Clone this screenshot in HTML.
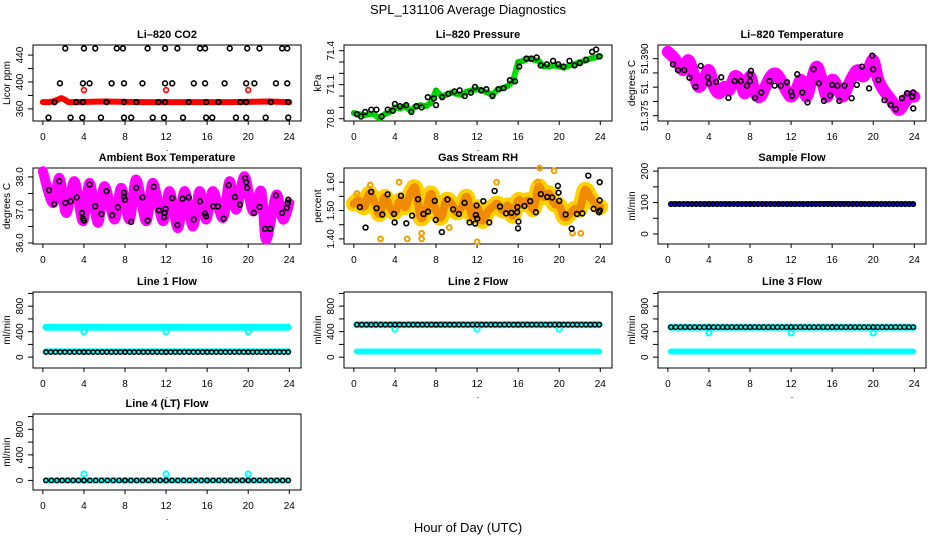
<!DOCTYPE html>
<html><head><meta charset="utf-8"><style>
html,body{margin:0;padding:0;background:#fff;}
svg{display:block;font-family:"Liberation Sans",sans-serif;}
</style></head><body>
<svg id="chart" width="936" height="540" viewBox="0 0 936 540">
<text x="468" y="14" text-anchor="middle" font-size="13">SPL_131106  Average Diagnostics</text>
<text x="468" y="532" text-anchor="middle" font-size="13">Hour of Day (UTC)</text>
</svg>
<script>
// ---------- data ----------
const xTicks = [0,4,8,12,16,20,24];
const halfHours = [0,0.5,1,1.5,2,2.5,3,3.5,4,4.5,5,5.5,6,6.5,7,7.5,8,8.5,9,9.5,10,10.5,11,11.5,12,12.5,13,13.5,14,14.5,15,15.5,16,16.5,17,17.5,18,18.5,19,19.5,20,20.5,21,21.5,22,22.5,23,23.5,24];

// CO2
const co2TopT = [2.18,4.0,5.1,7.2,7.8,10.2,11.9,13.1,15.3,15.8,18.2,19.9,21.1,23.3,23.8];
const co2TopV = [450,450,450,450,450,450,450,450,450,450,450,450,450,450,450];
const co2MidT = [1.66,3.9,4.55,6.7,7.9,9.7,11.9,12.6,14.7,15.8,17.7,19.8,20.6,22.7,23.8];
const co2MidV = [398,398,398,398,398,398,398,398,398,398,398,398,398,398,398];
const co2LowT = [1.14,3.25,3.9,6.2,7.9,9.1,11.25,11.9,14.2,15.9,17.1,19.25,19.8,22.2,23.9];
const co2LowV = [370,370,370,370,370,370,370,370,370,370,370,370,370,370,370];
const co2BotT = [0.55,2.7,3.84,5.66,7.9,8.6,10.7,11.8,13.65,15.9,16.5,18.8,19.8,21.7,23.9];
const co2BotV = [347,347,347,347,347,347,347,347,347,347,347,347,347,347,347];
const co2RedT = [0,0.5,1,1.5,1.8,2.1,2.5,3,6,10,14,18,22,24];
const co2RedV = [370,370,371,374,376,374,370,370,371,370,370,370,371,370];
const co2RedOutT = [4,12,20];
const co2RedOutV = [388,388,388];

// Pressure
const presGreen = [70.85,70.84,70.83,70.84,70.84,70.80,70.84,70.86,70.90,70.89,70.91,70.87,70.91,70.92,70.91,70.94,71.05,71.00,71.01,71.03,71.02,71.01,71.04,71.05,71.06,71.05,71.03,71.01,71.06,71.07,71.09,71.13,71.30,71.31,71.33,71.32,71.31,71.26,71.26,71.27,71.26,71.25,71.27,71.28,71.30,71.31,71.33,71.34,71.35];
const presBlackT = [0.3,0.7,1.1,1.7,2.2,2.7,3.3,3.8,4,4.5,5.1,5.6,6.1,6.6,7.2,7.8,8,8.6,9.2,9.8,10.3,10.8,11.4,11.8,12.4,12.9,13.5,14.1,14.6,15.2,15.7,16.1,16.8,17.3,17.8,18.2,18.8,19.4,19.9,20.4,21,21.5,22,22.6,23.2,23.6,23.9];
const presBlackV = [70.84,70.82,70.86,70.88,70.88,70.82,70.88,70.87,70.93,70.91,70.92,70.86,70.91,70.90,70.99,70.98,70.92,70.99,71.02,71.04,71.05,71.00,71.03,71.08,71.05,71.06,71.00,71.06,71.07,71.14,71.13,71.26,71.33,71.33,71.34,71.27,71.28,71.31,71.28,71.26,71.31,71.27,71.29,71.32,71.39,71.41,71.35];

// Li-820 temperature
const tempMag = [51.3918,51.3905,51.3888,51.3870,51.3896,51.3861,51.3826,51.3844,51.3870,51.3826,51.3809,51.3826,51.3818,51.3853,51.3844,51.3809,51.3853,51.3809,51.3800,51.3826,51.3853,51.3861,51.3844,51.3818,51.3800,51.3818,51.3844,51.3800,51.3844,51.3879,51.3844,51.3800,51.3844,51.3826,51.3800,51.3826,51.3853,51.3870,51.3853,51.3870,51.3896,51.3844,51.3818,51.3800,51.3782,51.3765,51.3782,51.3800,51.3800];
const tempBlackT = [0.5,1,1.6,2.1,2.7,3.2,3.9,4,4.7,5.2,5.9,6.5,7.1,7.7,8,8,8.1,8.5,9.1,9.9,10.4,11,11.6,12,12.1,12.6,13.1,13.6,14.2,14.7,15.2,15.8,16,16.5,16.7,17.2,17.9,18.4,18.9,19.6,19.9,20,20.5,21.1,21.7,22.2,22.8,23.3,23.8,23.9,23.9];
const tempBlackV = [51.3885,51.3870,51.3870,51.3850,51.3826,51.3881,51.3851,51.3835,51.3839,51.3851,51.3797,51.3841,51.3841,51.3829,51.3841,51.3857,51.3868,51.3797,51.3811,51.3841,51.3829,51.3829,51.3838,51.3813,51.3802,51.3859,51.3811,51.3785,51.3872,51.3835,51.3789,51.3803,51.3831,51.3829,51.3789,51.3829,51.3796,51.3831,51.3879,51.3822,51.3908,51.3872,51.3844,51.3791,51.3778,51.3767,51.3796,51.3809,51.3800,51.3811,51.3769];

// Ambient box temperature
const ambT = [0,0.97,1.62,2.27,3.08,3.9,4.55,5.36,6.0,6.98,7.63,8.44,9.09,10.06,10.71,11.69,12.34,13.15,13.8,14.61,15.26,15.9,16.56,17.53,18.18,18.83,19.64,20.45,21.27,21.75,22.73,23.38,24];
const ambV = [38.17,37.21,37.97,36.91,37.87,36.66,37.82,36.61,37.72,36.71,37.67,36.71,37.92,36.66,37.82,36.66,37.57,36.45,37.57,36.50,37.57,36.71,37.57,36.76,37.87,37.01,38.02,36.96,37.57,36.10,37.46,36.71,37.20];
const ambBlackT = [0.6,1.1,1.6,2.2,2.7,3.3,3.8,3.9,4,4.55,5.1,5.7,6.2,6.75,7.3,7.9,7.9,8,8.6,9.1,9.7,10.2,11.3,10.8,11.8,11.85,11.95,12.6,13.1,13.6,14.2,14.7,15.3,15.8,15.9,16.6,17.05,17.6,18.1,18.7,19.2,19.7,19.8,19.9,20.55,21.1,21.65,22.15,22.7,23.3,23.75,23.85,23.9];
const ambBlackV = [37.6,37.18,37.87,37.21,37.26,37.38,36.91,36.74,36.68,37.77,37.11,36.88,37.57,36.84,37.08,37.52,37.41,37.31,36.64,37.67,37.38,36.68,36.99,37.7,36.78,36.91,37.03,37.36,36.54,37.34,37.38,36.71,37.26,36.89,36.81,37.11,37.11,36.74,37.75,37.39,37.16,37.97,37.84,37.67,36.91,37.09,36.43,36.43,37.44,36.91,37.06,37.21,37.31];

// Gas stream RH
const rhBand = [1.524,1.536,1.512,1.560,1.530,1.488,1.548,1.512,1.494,1.536,1.512,1.560,1.578,1.476,1.500,1.560,1.500,1.476,1.536,1.524,1.494,1.512,1.548,1.482,1.512,1.464,1.494,1.512,1.524,1.500,1.518,1.482,1.536,1.524,1.536,1.506,1.584,1.548,1.560,1.524,1.518,1.476,1.488,1.506,1.506,1.572,1.548,1.524,1.512];
const rhOutT = [1.6,4.4,2.6,5.2,6.6,6.6,12,18.1,19.5,21.3,22.1,13.9,0.3,9.3,17.9];
const rhOutV = [1.59,1.60,1.40,1.40,1.42,1.40,1.39,1.65,1.64,1.42,1.42,1.60,1.56,1.44,1.60];
const rhBlackT = [0.59,1.14,1.69,2.21,2.77,3.29,3.91,3.97,4.59,5.11,5.67,6.25,6.78,7.23,7.88,7.98,8.57,9.12,9.67,10.23,10.78,11.27,11.82,11.89,11.95,12.02,12.61,13.19,13.71,14.23,14.82,15.34,15.9,15.93,15.99,16.03,16.61,17.17,17.72,18.21,18.83,19.32,19.87,19.93,20.0,20.62,21.21,21.73,22.25,22.83,23.35,23.94,23.94,23.97,23.87];
const rhBlackV = [1.512,1.440,1.566,1.508,1.486,1.557,1.488,1.458,1.552,1.455,1.482,1.540,1.488,1.496,1.534,1.467,1.424,1.539,1.504,1.488,1.527,1.458,1.454,1.484,1.518,1.472,1.533,1.458,1.569,1.514,1.490,1.492,1.494,1.512,1.437,1.461,1.516,1.533,1.494,1.558,1.548,1.546,1.587,1.563,1.534,1.486,1.436,1.488,1.490,1.623,1.506,1.600,1.536,1.500,1.494];

// Flows (piecewise segments)
const flowSegT = [0.3,4,8,12,16,20,23.9];
const sampleBlue = [96,96,96,96,97,96,96];
const sampleBlack = [95,95,95,95,95,95,95];
const line1CyanHi = [470,470,470,470,470,470,470];
const line1CyanLo = [90,90,90,90,90,90,90];
const line1Black = [80,80,80,80,80,80,80];
const line2CyanHi = [510,510,510,510,510,510,510];
const line2CyanLo = [88,88,88,88,88,88,88];
const line2Black = [510,510,510,510,510,510,510];
const line3CyanHi = [470,470,470,470,470,470,470];
const line3CyanLo = [88,88,88,88,88,88,88];
const line3Black = [470,470,470,470,470,470,470];
const line4Cyan = [0,0,0,0,0,0,0];
const line4Black = [0,0,0,0,0,0,0];
const dipT = [4,12,20];
const line1Dip = [400,400,400];
const line2Dip = [440,440,440];
const line3Dip = [380,380,380];
const line4Dip = [100,100,100];

// ---------- rendering ----------
const NS = "http://www.w3.org/2000/svg";
const svg = document.getElementById("chart");
const colLeft = [33,344,658], rowTop = [45,168,292,414], PW = 268, PH = 76;

function mk(tag, attrs, parent) {
  const e = document.createElementNS(NS, tag);
  for (const k in attrs) e.setAttribute(k, attrs[k]);
  (parent || svg).appendChild(e);
  return e;
}

function makePanel(col, row, name, title, ylab, ymin, ymax, ticks, labels) {
  const L = colLeft[col], T = rowTop[row];
  const g = mk("g", {});
  
  
  const p = { L, T, g, ymin, ymax,
    x: h => L + (h + 0.96) / 26.1 * PW,
    y: v => T + PH - (v - ymin) / (ymax - ymin) * PH };
  const t = mk("text", { x: L + PW / 2, y: T - 7, "text-anchor": "middle", "font-size": 11, "font-weight": "bold" }, g);
  t.textContent = title;
  
  
  const box = mk("rect", { x: L, y: T, width: PW, height: PH, fill: "none", stroke: "#000", "stroke-width": 1 }, g);
  
  
  xTicks.forEach(h => {
    mk("line", { x1: p.x(h), x2: p.x(h), y1: T + PH, y2: T + PH + 4, stroke: "#000" }, g);
    const tl = mk("text", { x: p.x(h), y: T + PH + 19, "text-anchor": "middle", "font-size": 10 }, g);
    tl.textContent = h;
    
    
  });
  const dot = mk("text", { x: L + PW / 2, y: T + PH + 30, "text-anchor": "middle", "font-size": 9 }, g);
  dot.textContent = ".";
  ticks.forEach((v, i) => {
    const yy = p.y(v);
    mk("line", { x1: L - 5, x2: L, y1: yy, y2: yy, stroke: "#000" }, g);
    if (labels[i]) {
      const yl = mk("text", { x: L - 10, y: yy, "text-anchor": "middle", "font-size": 10, transform: `rotate(-90 ${L - 10} ${yy})` }, g);
      yl.textContent = labels[i];
      
      
    }
  });
  const yt = mk("text", { x: L - 23, y: T + PH / 2, "text-anchor": "middle", "font-size": 10, transform: `rotate(-90 ${L - 23} ${T + PH / 2})` }, g);
  yt.textContent = ylab;
  
  
  return p;
}

function points(p, xs, ys, color, name, r, sw) {
  const g = mk("g", {}, p.g);
  
  
  xs.forEach((h, i) => {
    const c = mk("circle", { cx: p.x(h), cy: p.y(ys[i]), r: r || 2.4, fill: "none", stroke: color, "stroke-width": sw || 1.6 }, g);
    
    
  });
}

function band(p, xs, ys, color, width, name, smooth) {
  const P = xs.map((h, i) => [p.x(h), p.y(ys[i])]);
  let d = "M" + P[0][0] + "," + P[0][1];
  if (smooth) {
    for (let i = 0; i < P.length - 1; i++) {
      const p0 = P[i - 1] || P[i], p1 = P[i], p2 = P[i + 1], p3 = P[i + 2] || p2;
      const c1 = [p1[0] + (p2[0] - p0[0]) / 6, p1[1] + (p2[1] - p0[1]) / 6];
      const c2 = [p2[0] - (p3[0] - p1[0]) / 6, p2[1] - (p3[1] - p1[1]) / 6];
      d += ` C${c1[0]},${c1[1]} ${c2[0]},${c2[1]} ${p2[0]},${p2[1]}`;
    }
  } else {
    for (let i = 1; i < P.length; i++) d += " L" + P[i][0] + "," + P[i][1];
  }
  const e = mk("path", { d, fill: "none", stroke: color, "stroke-width": width, "stroke-linejoin": "round", "stroke-linecap": "round" }, p.g);
  
  
  return e;
}

function dotted(p, xs, ys, color, name, spacing) {
  const g = mk("g", {}, p.g);
  
  
  for (let i = 0; i < xs.length - 1; i++) {
    const x1 = p.x(xs[i]), y1 = p.y(ys[i]), x2 = p.x(xs[i + 1]), y2 = p.y(ys[i + 1]);
    const len = Math.hypot(x2 - x1, y2 - y1), n = Math.max(1, Math.round(len / spacing));
    for (let k = 0; k <= n; k++) {
      const c = mk("circle", { cx: x1 + (x2 - x1) * k / n, cy: y1 + (y2 - y1) * k / n, r: 2.2, fill: "none", stroke: color, "stroke-width": 1.5 }, g);
      
      
    }
  }
}

const FT = [0, 200, 400, 600, 800, 1000], FL = ["0", "", "400", "", "800", ""];

let p = makePanel(0, 0, "panel-li820-co2", "Li\u2013820 CO2", "Licor ppm", 342, 455, [360,380,400,420,440], ["360","","400","","440"]);
band(p, co2RedT, co2RedV, "#ff0000", 6, "co2-red-series", false);
points(p, co2RedOutT, co2RedOutV, "#ff0000", "co2-red-outliers");
points(p, co2TopT, co2TopV, "#000", "co2-black-450");
points(p, co2MidT, co2MidV, "#000", "co2-black-400");
points(p, co2LowT, co2LowV, "#000", "co2-black-370");
points(p, co2BotT, co2BotV, "#000", "co2-black-347");

p = makePanel(1, 0, "panel-li820-pressure", "Li\u2013820 Pressure", "kPa", 70.78, 71.45, [70.8,70.9,71.0,71.1,71.2,71.3,71.4], ["70.8","","","71.1","","","71.4"]);
band(p, halfHours, presGreen, "#00dd00", 6, "pressure-green-band", false);
points(p, halfHours, presGreen, "#00b000", "pressure-green-points", 2, 1);
points(p, presBlackT, presBlackV, "#000", "pressure-black-points");

p = makePanel(2, 0, "panel-li820-temperature", "Li\u2013820 Temperature", "degrees C", 51.3736, 51.3936, [51.375,51.37875,51.3825,51.38625,51.39], ["51.375","","51.","","51.390"]);
band(p, halfHours, tempMag, "#ff00ff", 12, "temperature-magenta-band", true);
points(p, halfHours, tempMag, "#ff00ff", "temperature-magenta-points", 3.5, 1.5);
points(p, tempBlackT, tempBlackV, "#000", "temperature-black-points");

p = makePanel(0, 1, "panel-ambient-box-temperature", "Ambient Box Temperature", "degrees C", 35.97, 38.27, [36,36.5,37,37.5,38], ["36.0","","37.0","","38.0"]);
band(p, ambT, ambV, "#ff00ff", 10, "ambient-magenta-band", true);
points(p, ambBlackT, ambBlackV, "#000", "ambient-black-points");

p = makePanel(1, 1, "panel-gas-stream-rh", "Gas Stream RH", "percent", 1.382, 1.65, [1.40,1.45,1.50,1.55,1.60], ["1.40","","1.50","","1.60"]);
band(p, halfHours, rhBand, "#ffd000", 16, "rh-yellow-band", true);
band(p, halfHours, rhBand, "#f08a00", 8, "rh-orange-band", true).setAttribute("stroke-dasharray", "2 2");
points(p, rhOutT, rhOutV, "#f0a000", "rh-orange-outliers", 2.4, 2);
points(p, rhBlackT, rhBlackV, "#000", "rh-black-points");

p = makePanel(2, 1, "panel-sample-flow", "Sample Flow", "ml/min", -32, 210, [0,50,100,150,200], ["0","","100","","200"]);
band(p, flowSegT, sampleBlue, "#0000ff", 5, "sample-blue-series", false);
dotted(p, flowSegT, sampleBlack, "#000", "sample-black-series", 4);

p = makePanel(0, 2, "panel-line1-flow", "Line 1 Flow", "ml/min", -170, 1022, FT, FL);
band(p, flowSegT, line1CyanHi, "#00ffff", 7, "line1-cyan-high", false);
band(p, flowSegT, line1CyanLo, "#00ffff", 6, "line1-cyan-low", false);
points(p, dipT, line1Dip, "#00ffff", "line1-cyan-dips", 2.6, 2);
dotted(p, flowSegT, line1Black, "#000", "line1-black-series", 4.5);

p = makePanel(1, 2, "panel-line2-flow", "Line 2 Flow", "ml/min", -170, 1022, FT, FL);
band(p, flowSegT, line2CyanHi, "#00ffff", 7, "line2-cyan-high", false);
band(p, flowSegT, line2CyanLo, "#00ffff", 6, "line2-cyan-low", false);
points(p, dipT, line2Dip, "#00ffff", "line2-cyan-dips", 2.6, 2);
dotted(p, flowSegT, line2Black, "#000", "line2-black-series", 4.5);

p = makePanel(2, 2, "panel-line3-flow", "Line 3 Flow", "ml/min", -170, 1022, FT, FL);
band(p, flowSegT, line3CyanHi, "#00ffff", 7, "line3-cyan-high", false);
band(p, flowSegT, line3CyanLo, "#00ffff", 6, "line3-cyan-low", false);
points(p, dipT, line3Dip, "#00ffff", "line3-cyan-dips", 2.6, 2);
dotted(p, flowSegT, line3Black, "#000", "line3-black-series", 4.5);

p = makePanel(0, 3, "panel-line4-flow", "Line 4 (LT) Flow", "ml/min", -150, 1040, FT, FL);
band(p, flowSegT, line4Cyan, "#00ffff", 6, "line4-cyan-series", false);
points(p, dipT, line4Dip, "#00ffff", "line4-cyan-spikes", 2.6, 2);
dotted(p, flowSegT, line4Black, "#000", "line4-black-series", 5.5);
</script>
</body></html>
